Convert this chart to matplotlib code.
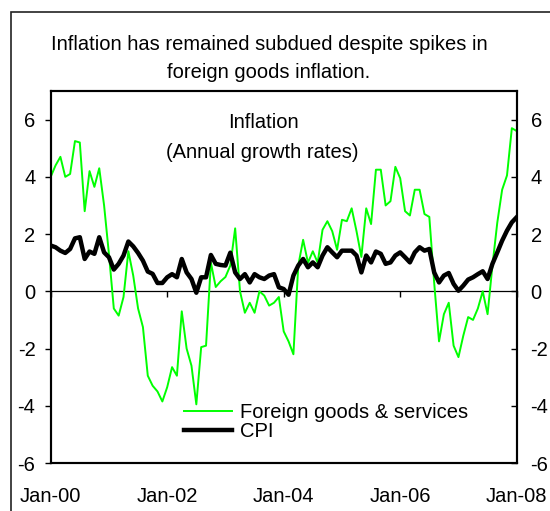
import matplotlib
matplotlib.use("Agg")
import matplotlib.pyplot as plt
from matplotlib.patches import Rectangle

plt.rcParams['font.family'] = ['Liberation Sans', 'DejaVu Sans']
plt.rcParams['axes.unicode_minus'] = False

# monthly, Jan-00 .. Jan-08 (annual growth rates, %)
months = list(range(97))
foreign = [4.0, 4.4, 4.7, 4.0, 4.1, 5.25, 5.2, 2.8, 4.2, 3.65,
           4.3, 3.0, 1.3, -0.6, -0.85, -0.2, 1.4, 0.55, -0.6, -1.25,
           -2.95, -3.3, -3.5, -3.85, -3.35, -2.65, -2.95, -0.7, -2.0, -2.6,
           -3.95, -1.95, -1.9, 1.0, 0.15, 0.35, 0.5, 0.9, 2.2, 0.0,
           -0.75, -0.4, -0.75, 0.0, -0.15, -0.5, -0.4, -0.2, -1.4, -1.75,
           -2.2, 0.9, 1.8, 1.0, 1.4, 1.0, 2.15, 2.45, 2.1, 1.45,
           2.5, 2.45, 2.9, 2.1, 1.2, 2.9, 2.35, 4.25, 4.25, 3.0,
           3.15, 4.35, 3.95, 2.8, 2.65, 3.55, 3.55, 2.7, 2.6, 0.3,
           -1.75, -0.8, -0.4, -1.9, -2.3, -1.55, -0.9, -1.0, -0.6, 0.0,
           -0.8, 0.9, 2.4, 3.55, 4.05, 5.7, 5.6]
cpi = [1.6, 1.54, 1.42, 1.34, 1.48, 1.85, 1.89, 1.13, 1.39, 1.31,
       1.89, 1.36, 1.19, 0.76, 0.96, 1.25, 1.74, 1.57, 1.34, 1.07,
       0.69, 0.61, 0.29, 0.29, 0.49, 0.6, 0.49, 1.13, 0.66, 0.43,
       -0.05, 0.49, 0.49, 1.27, 0.96, 0.92, 0.9, 1.35, 0.66, 0.43,
       0.6, 0.31, 0.6, 0.49, 0.43, 0.55, 0.6, 0.14, 0.08, -0.12,
       0.55, 0.9, 1.13, 0.84, 1.01, 0.84, 1.25, 1.54, 1.36, 1.19,
       1.42, 1.42, 1.42, 1.25, 0.66, 1.25, 1.01, 1.39, 1.31, 0.96,
       1.01, 1.25, 1.36, 1.19, 1.01, 1.36, 1.54, 1.42, 1.48, 0.66,
       0.31, 0.55, 0.64, 0.26, 0.02, 0.2, 0.41, 0.49, 0.6, 0.7,
       0.43, 0.96, 1.36, 1.77, 2.12, 2.41, 2.59]

xtick_pos = [0, 24, 48, 72, 96]
xtick_labels = ['Jan-00', 'Jan-02', 'Jan-04', 'Jan-06', 'Jan-08']
yticks = [-6, -4, -2, 0, 2, 4, 6]

FS = 14.5

fig = plt.figure(figsize=(5.5, 5.11), dpi=100)
ax = fig.add_axes([50.7 / 550, 1 - 463 / 511, 466 / 550, 372 / 511])

ax.plot(months, foreign, color='#00FF00', linewidth=1.4, label='Foreign goods & services')
ax.plot(months, cpi, color='black', linewidth=3.2, label='CPI')

ax.set_xlim(0, 96)
ax.set_ylim(-6, 7)
ax.set_yticks(yticks)
ax.set_xticks(xtick_pos)
ax.set_xticklabels(xtick_labels)
ax.tick_params(axis='x', length=0, pad=17, labelsize=FS)
ax.tick_params(axis='y', direction='out', length=4, width=1, pad=7, labelsize=FS)
for s in ax.spines.values():
    s.set_linewidth(1.5)

# right hand axis (ticks pointing inwards)
ax2 = ax.twinx()
ax2.set_ylim(-6, 7)
ax2.set_yticks(yticks)
ax2.tick_params(axis='y', direction='in', length=4, width=1, pad=10, labelsize=FS)
for s in ax2.spines.values():
    s.set_linewidth(1.5)

# zero line carrying the date tick marks
zero = ax.secondary_xaxis(6 / 13)
zero.set_xticks(xtick_pos)
zero.set_xticklabels([])
zero.tick_params(axis='x', direction='out', length=4, width=1)
zero.spines['bottom'].set_linewidth(0.9)

ax.text(0.457, 0.915, 'Inflation', transform=ax.transAxes, ha='center', va='center', fontsize=FS)
ax.text(0.455, 0.835, '(Annual growth rates)', transform=ax.transAxes, ha='center', va='center', fontsize=FS)

ax.legend(loc='center left', bbox_to_anchor=(0.285, 0.11), frameon=False, fontsize=FS,
          handlelength=2.4, handletextpad=0.4, labelspacing=0.0, borderpad=0, borderaxespad=0)

fig.text(269 / 550, 1 - 58.5 / 511,
         'Inflation has remained subdued despite spikes in\nforeign goods inflation.',
         ha='center', va='center', fontsize=FS, linespacing=1.55)

# outer chart border
fig.patches.append(Rectangle((11 / 550, -0.1), 1.2, 1 - 12 / 511 + 0.1, transform=fig.transFigure,
                             fill=False, edgecolor='#222222', linewidth=1.2))

fig.savefig('out.png', dpi=100, facecolor='white')
